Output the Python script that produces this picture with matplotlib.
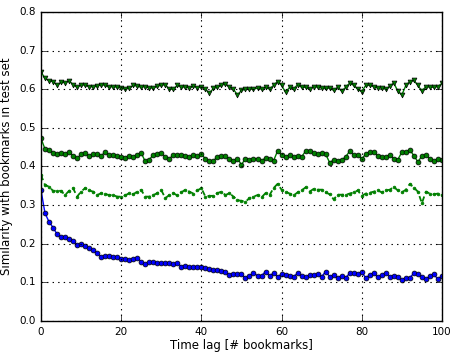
import numpy as np
import matplotlib
matplotlib.use("Agg")
import matplotlib.pyplot as plt

lag = list(range(101))

top_tri = [0.645, 0.628, 0.622, 0.620, 0.611, 0.618, 0.617, 0.622, 0.612, 0.605,
           0.612, 0.610, 0.607, 0.606, 0.608, 0.612, 0.610, 0.605, 0.607, 0.605,
           0.603, 0.600, 0.603, 0.610, 0.608, 0.605, 0.607, 0.603, 0.603, 0.608,
           0.610, 0.612, 0.600, 0.600, 0.610, 0.605, 0.606, 0.603, 0.608, 0.604,
           0.607, 0.600, 0.590, 0.602, 0.605, 0.610, 0.614, 0.606, 0.600, 0.585,
           0.597, 0.600, 0.600, 0.600, 0.603, 0.600, 0.605, 0.600, 0.610, 0.620,
           0.610, 0.592, 0.605, 0.600, 0.612, 0.605, 0.605, 0.600, 0.607, 0.605,
           0.603, 0.602, 0.603, 0.597, 0.605, 0.595, 0.605, 0.616, 0.610, 0.600,
           0.594, 0.610, 0.610, 0.607, 0.603, 0.603, 0.600, 0.608, 0.616, 0.595,
           0.585, 0.610, 0.620, 0.623, 0.610, 0.595, 0.607, 0.605, 0.605, 0.607,
           0.615]

mid_circ = [0.473, 0.445, 0.442, 0.436, 0.432, 0.435, 0.432, 0.437, 0.428, 0.421,
            0.432, 0.435, 0.427, 0.432, 0.432, 0.428, 0.437, 0.430, 0.430, 0.427,
            0.425, 0.423, 0.427, 0.425, 0.430, 0.435, 0.413, 0.418, 0.430, 0.433,
            0.435, 0.425, 0.420, 0.430, 0.430, 0.430, 0.428, 0.425, 0.430, 0.427,
            0.432, 0.420, 0.413, 0.415, 0.425, 0.427, 0.427, 0.420, 0.415, 0.420,
            0.405, 0.420, 0.417, 0.420, 0.420, 0.415, 0.422, 0.420, 0.415, 0.440,
            0.430, 0.425, 0.430, 0.425, 0.427, 0.425, 0.440, 0.440, 0.435, 0.432,
            0.435, 0.432, 0.410, 0.417, 0.415, 0.417, 0.425, 0.440, 0.430, 0.430,
            0.420, 0.432, 0.438, 0.438, 0.427, 0.425, 0.425, 0.430, 0.420, 0.418,
            0.437, 0.437, 0.443, 0.428, 0.412, 0.427, 0.430, 0.420, 0.413, 0.420,
            0.418]

dash_dot = [0.378, 0.352, 0.348, 0.337, 0.337, 0.337, 0.326, 0.337, 0.344, 0.322,
            0.335, 0.344, 0.338, 0.335, 0.326, 0.331, 0.329, 0.326, 0.326, 0.322,
            0.322, 0.325, 0.331, 0.328, 0.335, 0.339, 0.322, 0.322, 0.326, 0.331,
            0.339, 0.318, 0.326, 0.331, 0.325, 0.333, 0.340, 0.335, 0.330, 0.338,
            0.344, 0.322, 0.324, 0.324, 0.331, 0.335, 0.326, 0.331, 0.322, 0.313,
            0.311, 0.309, 0.318, 0.322, 0.326, 0.320, 0.331, 0.326, 0.344, 0.355,
            0.340, 0.335, 0.330, 0.325, 0.333, 0.338, 0.346, 0.335, 0.342, 0.340,
            0.340, 0.333, 0.328, 0.315, 0.327, 0.327, 0.327, 0.330, 0.333, 0.338,
            0.324, 0.330, 0.332, 0.335, 0.338, 0.333, 0.338, 0.340, 0.347, 0.338,
            0.333, 0.340, 0.355, 0.345, 0.335, 0.305, 0.335, 0.330, 0.328, 0.330,
            0.325]

blue_circ = [0.339, 0.279, 0.257, 0.242, 0.225, 0.218, 0.218, 0.212, 0.208, 0.197,
             0.200, 0.193, 0.188, 0.183, 0.176, 0.166, 0.168, 0.168, 0.167, 0.166,
             0.161, 0.160, 0.158, 0.161, 0.164, 0.153, 0.147, 0.153, 0.153, 0.150,
             0.150, 0.149, 0.150, 0.147, 0.150, 0.141, 0.142, 0.140, 0.141, 0.139,
             0.140, 0.136, 0.134, 0.132, 0.131, 0.130, 0.128, 0.119, 0.123, 0.122,
             0.121, 0.111, 0.117, 0.125, 0.117, 0.117, 0.128, 0.117, 0.124, 0.115,
             0.121, 0.119, 0.117, 0.115, 0.124, 0.117, 0.113, 0.119, 0.119, 0.121,
             0.115, 0.128, 0.115, 0.118, 0.112, 0.117, 0.112, 0.124, 0.124, 0.121,
             0.126, 0.112, 0.119, 0.125, 0.113, 0.119, 0.125, 0.115, 0.117, 0.115,
             0.106, 0.112, 0.112, 0.124, 0.121, 0.115, 0.108, 0.117, 0.121, 0.108,
             0.117]

x_ticks = [0, 20, 40, 60, 80, 100]
y_ticks = [0.0, 0.1, 0.2, 0.3, 0.4, 0.5, 0.6, 0.7, 0.8]

plt.style.use('classic')
plt.rcParams['font.family'] = ['DejaVu Sans']

fig = plt.figure(figsize=(4.51, 3.52), dpi=100, facecolor='white')
ax = fig.add_axes([0.0909, 0.088, 0.889, 0.878])

ms = 3.5
ax.plot(lag, top_tri, 'gv-', markersize=ms, markeredgecolor='k', markeredgewidth=0.5, linewidth=1)
ax.plot(lag, mid_circ, 'go-', markersize=ms, markeredgecolor='k', markeredgewidth=0.5, linewidth=1)
ax.plot(lag, dash_dot, 'g.--', markersize=4, markeredgecolor='g', linewidth=1.3, dashes=(4, 2.5))
ax.plot(lag, blue_circ, 'bo-', markersize=ms, markeredgecolor='k', markeredgewidth=0.5, linewidth=1)

ax.set_xlim(0, 100)
ax.set_ylim(0, 0.8)
ax.set_xticks(x_ticks)
ax.set_yticks(y_ticks)
ax.set_yticklabels([f"{v:.1f}" for v in y_ticks])
ax.grid(True, color='k', linestyle=':', linewidth=0.8)
ax.tick_params(labelsize=7.5, direction='in', length=4)
ax.set_xlabel('Time lag [# bookmarks]', fontsize=8.5, labelpad=2)
ax.set_ylabel('Similarity with bookmarks in test set', fontsize=8.5, labelpad=4)
ax.set_facecolor('white')

fig.savefig('out.png', dpi=100, facecolor='white')
